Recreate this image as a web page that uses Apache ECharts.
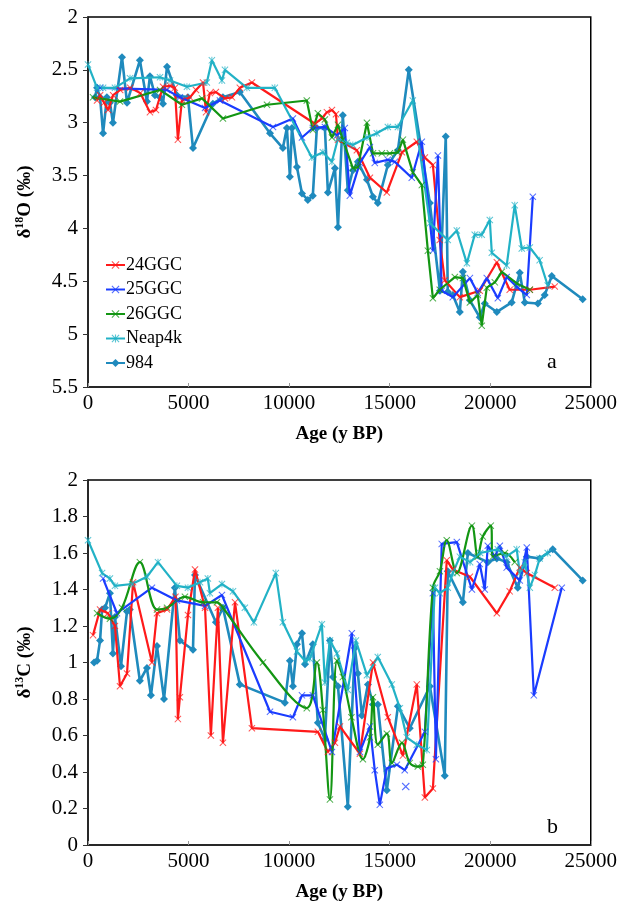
<!DOCTYPE html>
<html><head><meta charset="utf-8">
<script src="https://cdn.jsdelivr.net/npm/echarts@6/dist/echarts.min.js"></script>
<style>html,body{margin:0;padding:0;background:#fff}#c{width:620px;height:911px}</style>
</head><body><div id="c"></div>
<script>
// ---- Data (age y BP, value ‰) ----
const seriesNames = ['24GGC','25GGC','26GGC','Neap4k','984'];
const xTicks = [0,5000,10000,15000,20000,25000];

// delta 18O (panel a)
const d18O_24GGC = [[450,2.79],[600,2.74],[800,2.81],[1000,2.88],[1250,2.74],[1600,2.69],[2100,2.67],[2600,2.72],[3080,2.9],[3380,2.88],[3730,2.66],[4080,2.65],[4320,2.67],[4470,3.16],[4670,2.79],[5070,2.76],[5370,2.69],[5720,2.62],[5870,2.9],[6060,2.72],[6360,2.71],[6810,2.77],[7160,2.76],[7550,2.67],[8150,2.62],[11280,3.01],[11630,2.96],[11880,2.9],[12130,2.88],[12330,2.92],[12430,3.16],[13370,3.26],[14020,3.52],[14860,3.66],[15610,3.28],[16350,3.18],[16750,3.33],[17150,3.4],[17490,4.11],[17740,4.49],[18490,4.65],[19480,4.59],[20330,4.32],[20970,4.58],[21970,4.58],[23210,4.55]];
const d18O_25GGC = [[600,2.67],[3930,2.69],[4570,2.76],[5820,2.86],[6560,2.79],[9200,3.04],[10190,2.96],[10640,3.14],[11180,3.05],[11780,3.04],[12380,3.12],[12770,3.05],[13020,3.69],[13520,3.38],[14020,3.23],[14260,3.38],[14910,3.35],[15260,3.37],[16100,3.52],[16600,3.18],[17150,4.21],[17400,3.31],[17590,4.59],[18140,4.65],[18990,4.47],[19380,4.61],[19830,4.47],[20380,4.66],[20820,4.46],[21370,4.56],[21820,4.63],[22120,3.7]];
const d18O_26GGC = [[250,2.76],[1590,2.8],[3580,2.69],[4670,2.83],[5670,2.77],[6710,2.96],[8900,2.83],[10880,2.79],[11180,3.07],[11430,2.91],[11780,2.97],[12130,3.14],[12430,3.02],[12670,3.16],[13170,3.43],[13420,3.42],[13870,3.0],[14170,3.29],[14610,3.29],[15010,3.29],[15410,3.28],[15660,3.16],[16150,3.47],[16600,3.59],[16900,4.21],[17150,4.66],[17490,4.58],[18240,4.46],[18640,4.47],[18990,4.7],[19380,4.63],[19580,4.92],[19830,4.56],[20230,4.51],[20580,4.41],[21320,4.52],[21970,4.58]];
const d18O_Neap4k = [[0,2.45],[450,2.67],[750,2.67],[1340,2.67],[2090,2.58],[3580,2.57],[4080,2.6],[4920,2.66],[5910,2.62],[6160,2.41],[6660,2.6],[6810,2.5],[7900,2.67],[9290,2.67],[11130,3.33],[11680,3.28],[12130,3.37],[12430,3.15],[12870,3.19],[13170,3.21],[13870,3.14],[14360,3.1],[14910,3.04],[15410,3.04],[16150,2.79],[17000,3.95],[17890,4.11],[18340,4.02],[18840,4.33],[19230,4.06],[19580,4.06],[19980,3.92],[20080,4.23],[20820,4.35],[21220,3.78],[21570,4.19],[21970,4.18],[22460,4.3],[22860,4.54]];
const d18O_984 = [[350,2.76],[450,2.67],[600,2.76],[750,3.1],[940,2.76],[1090,2.81],[1240,3.0],[1690,2.38],[1940,2.81],[2580,2.41],[2930,2.8],[3080,2.56],[3330,2.74],[3580,2.76],[3730,2.82],[3930,2.47],[4420,2.74],[4970,2.76],[5220,3.24],[6210,2.82],[6710,2.76],[7550,2.71],[9050,3.1],[9690,3.24],[9890,3.05],[10040,3.51],[10140,3.05],[10390,3.42],[10640,3.67],[10930,3.73],[11180,3.69],[11380,3.05],[11780,3.05],[11930,3.66],[12280,3.43],[12430,3.99],[12670,2.93],[12920,3.64],[13170,3.45],[13420,3.37],[13870,3.54],[14170,3.7],[14410,3.76],[14910,3.4],[15410,3.26],[15950,2.5],[17000,3.76],[17500,4.59],[17790,3.13],[17890,4.6],[18140,4.63],[18490,4.79],[18640,4.41],[18990,4.68],[19480,4.84],[19730,4.71],[20330,4.79],[21070,4.7],[21470,4.42],[21720,4.7],[22370,4.71],[22710,4.63],[23060,4.45],[24600,4.67]];

// delta 13C (panel b)
const d13C_24GGC = [[250,1.15],[600,1.29],[990,1.27],[1340,1.2],[1590,0.87],[1940,0.94],[2240,1.44],[3180,1.0],[3430,1.27],[3930,1.29],[4350,1.36],[4470,0.69],[4570,0.81],[4970,1.26],[5320,1.51],[5820,1.3],[6110,0.6],[6460,1.3],[6710,0.56],[7310,1.33],[8150,0.64],[11430,0.62],[11930,0.51],[12280,0.56],[12530,0.65],[13520,0.5],[14170,1.0],[14910,0.7],[15660,0.49],[16350,0.88],[16750,0.26],[17150,0.31],[17840,1.56],[18140,1.51],[18990,1.47],[20330,1.27],[20970,1.39],[21470,1.52],[21820,1.49],[23210,1.41]];
const d13C_25GGC = [[750,1.46],[1440,1.27],[3180,1.41],[4420,1.34],[5820,1.31],[6660,1.37],[9050,0.73],[10190,0.7],[10640,0.82],[11180,0.82],[12130,0.51],[13120,1.16],[13520,0.51],[14020,0.65],[14260,0.41],[14510,0.22],[14860,0.42],[15360,0.44],[15750,0.41],[16750,0.62],[17150,1.38],[17300,0.47],[17590,1.65],[18340,1.66],[19090,1.4],[19480,1.54],[19730,1.4],[19880,1.64],[20230,1.58],[20480,1.64],[20820,1.52],[21470,1.45],[21820,1.63],[22170,0.82],[23560,1.41]];
const d13C_25GGC_isolated = [[15800,0.32]];
const d13C_26GGC = [[450,1.27],[1090,1.24],[1690,1.3],[2580,1.55],[3430,1.29],[3930,1.3],[4820,1.36],[5720,1.33],[6410,1.33],[6710,1.3],[8700,1.0],[10880,0.75],[11380,1.0],[11680,0.74],[12030,0.25],[12380,1.01],[12670,0.92],[13100,0.7],[13670,0.47],[14020,0.59],[14170,0.81],[14410,0.55],[14860,0.61],[15110,0.45],[15610,0.56],[16000,0.45],[16400,0.43],[16650,0.44],[17150,1.41],[17500,1.5],[17840,1.67],[18340,1.49],[19090,1.75],[19380,1.58],[19630,1.69],[20030,1.75],[20130,1.58],[20730,1.6],[21220,1.55]];
const d13C_Neap4k = [[0,1.67],[700,1.49],[1090,1.46],[1340,1.42],[2190,1.43],[2930,1.47],[3480,1.55],[4420,1.42],[4970,1.41],[5570,1.44],[5960,1.46],[6060,1.38],[6660,1.43],[7210,1.39],[7800,1.3],[8250,1.22],[9340,1.49],[9690,1.22],[10390,1.06],[10790,1.01],[11030,1.02],[11630,1.21],[11780,0.89],[12030,1.12],[12380,1.05],[12920,0.85],[13320,1.12],[13870,0.93],[14410,1.03],[15110,0.88],[15510,0.75],[15850,0.59],[16350,0.55],[16850,0.52],[17250,1.41],[17490,1.38],[17890,1.41],[18140,1.49],[18490,1.58],[19000,1.55],[19500,1.6],[20380,1.62],[20800,1.58],[21320,1.62],[21470,1.49],[21720,1.55],[21970,1.41],[22220,1.48],[22460,1.57],[22860,1.6]];
const d13C_984 = [[300,1.0],[450,1.01],[600,1.12],[700,1.29],[850,1.3],[1090,1.38],[1240,1.05],[1340,1.25],[1640,0.98],[1940,1.28],[2080,1.29],[2580,0.9],[2930,0.97],[3130,0.82],[3430,1.09],[3780,0.8],[4320,1.41],[4570,1.12],[5220,1.07],[5320,1.48],[6360,1.22],[6710,1.3],[7550,0.88],[9790,0.78],[10040,1.01],[10190,0.87],[10390,1.1],[10640,1.16],[10790,0.99],[11180,1.1],[11430,0.67],[11780,0.58],[12030,1.12],[12180,0.92],[12430,0.87],[12920,0.21],[13270,1.08],[13420,0.94],[13620,0.71],[13920,0.88],[14170,0.77],[14410,0.77],[14860,0.3],[15410,0.76],[16000,0.64],[17000,0.87],[17740,0.38],[17890,1.5],[18640,1.33],[18890,1.6],[19880,1.55],[20330,1.57],[20820,1.55],[21370,1.41],[21820,1.58],[22460,1.57],[23110,1.62],[24600,1.45]];

// ---- Styling ----
const FONT = 'Liberation Serif, Times New Roman, serif';
const colors = {'24GGC':'#ff1a1a','25GGC':'#1a3cff','26GGC':'#139613','Neap4k':'#22b2c6','984':'#1f8abd'};
const X_SYM = 'path://M0,1L1,0L5,4L9,0L10,1L6,5L10,9L9,10L5,6L1,10L0,9L4,5Z';
const AST_SYM = 'path://M0,1L1,0L4.3,3.3L4.3,0L5.7,0L5.7,3.3L9,0L10,1L6,5L10,9L9,10L5.7,6.7L5.7,10L4.3,10L4.3,6.7L1,10L0,9L4,5Z';
const symbols = {'24GGC':X_SYM,'25GGC':X_SYM,'26GGC':X_SYM,'Neap4k':AST_SYM,'984':'diamond'};

function mkSeries(name, data, gi, extra) {
  const isBig = name === '984';
  return Object.assign({
    name, type:'line', data, xAxisIndex:gi, yAxisIndex:gi,
    symbol: symbols[name], symbolSize: isBig ? 8 : 7, showSymbol:true,
    lineStyle:{color:colors[name], width: isBig ? 2.6 : 2.2},
    itemStyle:{color:colors[name], opacity: isBig ? 1 : 0.75},
    emphasis:{disabled:true}, animation:false, z: isBig ? 2 : 3
  }, extra || {});
}

const axisLabelStyle = {fontFamily:FONT, fontSize:21, color:'#000'};
function xAx(gi){
  return {type:'value', gridIndex:gi, min:0, max:25000, interval:5000,
    name:'Age (y BP)', nameLocation:'middle', nameGap:38,
    nameTextStyle:{fontFamily:FONT, fontSize:19, fontWeight:'bold', color:'#000'},
    axisLine:{show:true, lineStyle:{color:'#222', width:1.5}},
    axisTick:{show:true, inside:true, length:4, lineStyle:{color:'#999'}},
    axisLabel:Object.assign({margin:6, formatter:v=>String(v)}, axisLabelStyle),
    splitLine:{show:false}};
}
function yName(txt){
  return {rich:{
    b:{fontFamily:FONT, fontSize:19, fontWeight:'bold', color:'#000', lineHeight:22},
    sup:{fontFamily:FONT, fontSize:12, fontWeight:'bold', color:'#000', verticalAlign:'top', lineHeight:12}}};
}

const option = {
  animation:false,
  backgroundColor:'#fff',
  color: seriesNames.map(n=>colors[n]),
  grid:[
    {left:88, top:17, width:503, height:370, show:true, borderColor:'#000', borderWidth:1.5},
    {left:88, top:480, width:503, height:365, show:true, borderColor:'#000', borderWidth:1.5}
  ],
  xAxis:[xAx(0), xAx(1)],
  yAxis:[
    {type:'value', gridIndex:0, min:2, max:5.5, interval:0.5, inverse:true,
     name:'{b|δ}{sup|18}{b|O (‰)}', nameLocation:'middle', nameGap:52, nameRotate:90,
     nameTextStyle:yName(),
     axisLine:{show:true, lineStyle:{color:'#222', width:1.5}},
     axisTick:{show:true, inside:false, length:5, lineStyle:{color:'#333'}},
     axisLabel:Object.assign({margin:10}, axisLabelStyle),
     splitLine:{show:false}},
    {type:'value', gridIndex:1, min:0, max:2, interval:0.2,
     name:'{b|δ}{sup|13}{b|C (‰)}', nameLocation:'middle', nameGap:52, nameRotate:90,
     nameTextStyle:yName(),
     axisLine:{show:true, lineStyle:{color:'#222', width:1.5}},
     axisTick:{show:true, inside:false, length:5, lineStyle:{color:'#333'}},
     axisLabel:Object.assign({margin:10, formatter:v=>String(Math.round(v*10)/10)}, axisLabelStyle),
     splitLine:{show:false}}
  ],
  legend:{
    data: seriesNames, orient:'vertical', left:100, top:251, itemGap:6.5,
    itemWidth:19, itemHeight:10,
    textStyle:{fontFamily:FONT, fontSize:18, color:'#000', padding:[0,0,0,-4]},
    selectedMode:false
  },
  graphic:[
    {type:'text', left:547, top:351, style:{text:'a', font:'22px '+FONT, fill:'#000'}},
    {type:'text', left:547, top:816, style:{text:'b', font:'22px '+FONT, fill:'#000'}}
  ],
  series:[
    mkSeries('24GGC', d18O_24GGC, 0),
    mkSeries('25GGC', d18O_25GGC, 0),
    mkSeries('26GGC', d18O_26GGC, 0),
    mkSeries('Neap4k', d18O_Neap4k, 0),
    mkSeries('984', d18O_984, 0),
    mkSeries('24GGC', d13C_24GGC, 1),
    mkSeries('25GGC', d13C_25GGC, 1),
    mkSeries('26GGC', d13C_26GGC, 1, {smooth:0.35}),
    mkSeries('Neap4k', d13C_Neap4k, 1),
    mkSeries('984', d13C_984, 1),
    {type:'scatter', data:d13C_25GGC_isolated, xAxisIndex:1, yAxisIndex:1,
     symbol:X_SYM, symbolSize:8, itemStyle:{color:colors['25GGC'], opacity:0.75}, silent:true}
  ]
};
echarts.init(document.getElementById('c'), null, {renderer:'canvas'}).setOption(option);
</script></body></html>
